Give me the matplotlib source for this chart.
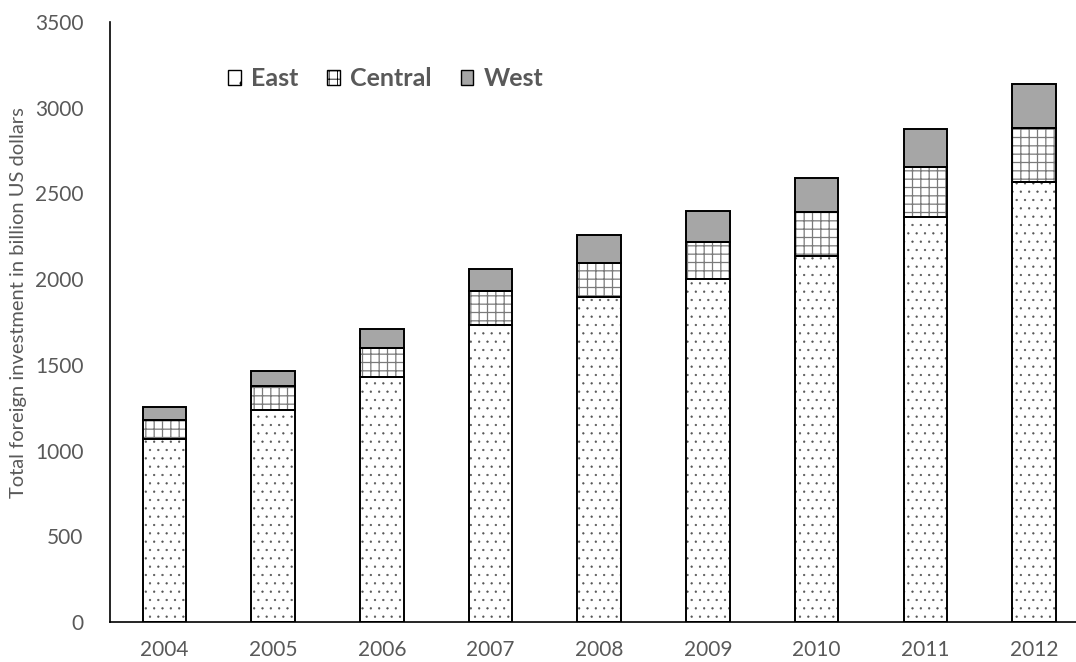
import matplotlib
matplotlib.use('Agg')
import matplotlib.pyplot as plt
from matplotlib.patches import Patch
import numpy as np

# Foreign investment by region, billion US dollars
years = ['2004', '2005', '2006', '2007', '2008', '2009', '2010', '2011', '2012']
east = [1066, 1237, 1431, 1733, 1898, 2001, 2137, 2365, 2567]
central = [112, 140, 167, 198, 198, 218, 255, 287, 315]
west = [79, 87, 109, 128, 163, 179, 196, 224, 257]

plt.rcParams['font.family'] = ['Lato', 'DejaVu Sans']

text_grey = '#595959'
west_grey = '#a6a6a6'

fig = plt.figure(figsize=(10.76, 6.62), dpi=100)
ax = fig.add_axes([110 / 1076, 40 / 662, 966 / 1076, 600 / 662])

x = np.arange(len(years))
w = 0.4
east = np.array(east)
central = np.array(central)
west = np.array(west)
base_c = east
base_w = east + central

# fill + pattern layer, pattern colour comes from the edgecolor
plt.rcParams['hatch.linewidth'] = 0.4
ax.bar(x, east, w, color='white', edgecolor='#555555', hatch='..', linewidth=0)
plt.rcParams['hatch.linewidth'] = 0.9
ax.bar(x, central, w, bottom=base_c, color='white', edgecolor='#7a7a7a', hatch='++', linewidth=0)
ax.bar(x, west, w, bottom=base_w, color=west_grey, linewidth=0)

# black outlines on top
for vals, bot in [(east, 0), (central, base_c), (west, base_w)]:
    ax.bar(x, vals, w, bottom=bot, fill=False, edgecolor='black', linewidth=1.4)

ax.set_xlim(-0.5, 8.386)
ax.set_ylim(0, 3500)
ax.set_yticks(np.arange(0, 3501, 500))
ax.set_xticks(x)
ax.set_xticklabels(years)
ax.tick_params(axis='both', length=0, labelsize=15, colors=text_grey)
ax.tick_params(axis='x', pad=13)
ax.tick_params(axis='y', pad=19)
for s in ['top', 'right']:
    ax.spines[s].set_visible(False)
for s in ['left', 'bottom']:
    ax.spines[s].set_color('black')
    ax.spines[s].set_linewidth(1.2)

ax.set_ylabel('Total foreign investment in billion US dollars', fontsize=14.5,
              color=text_grey)
ax.yaxis.set_label_coords(-0.086, 0.533)

plt.rcParams['hatch.linewidth'] = 0.6
handles = [
    Patch(facecolor='white', edgecolor='black', hatch='.', linewidth=1.0),
    Patch(facecolor='white', edgecolor='black', hatch='++', linewidth=1.0),
    Patch(facecolor=west_grey, edgecolor='black', linewidth=1.0),
]
leg = ax.legend(handles, ['East', 'Central', 'West'], ncol=3, frameon=False,
                loc='upper left', bbox_to_anchor=(0.099, 0.962),
                prop={'weight': 'bold', 'size': 18},
                handlelength=0.5, handleheight=0.5, handletextpad=0.42,
                columnspacing=1.15)
for t in leg.get_texts():
    t.set_color(text_grey)

fig.savefig('out.png', dpi=100)
